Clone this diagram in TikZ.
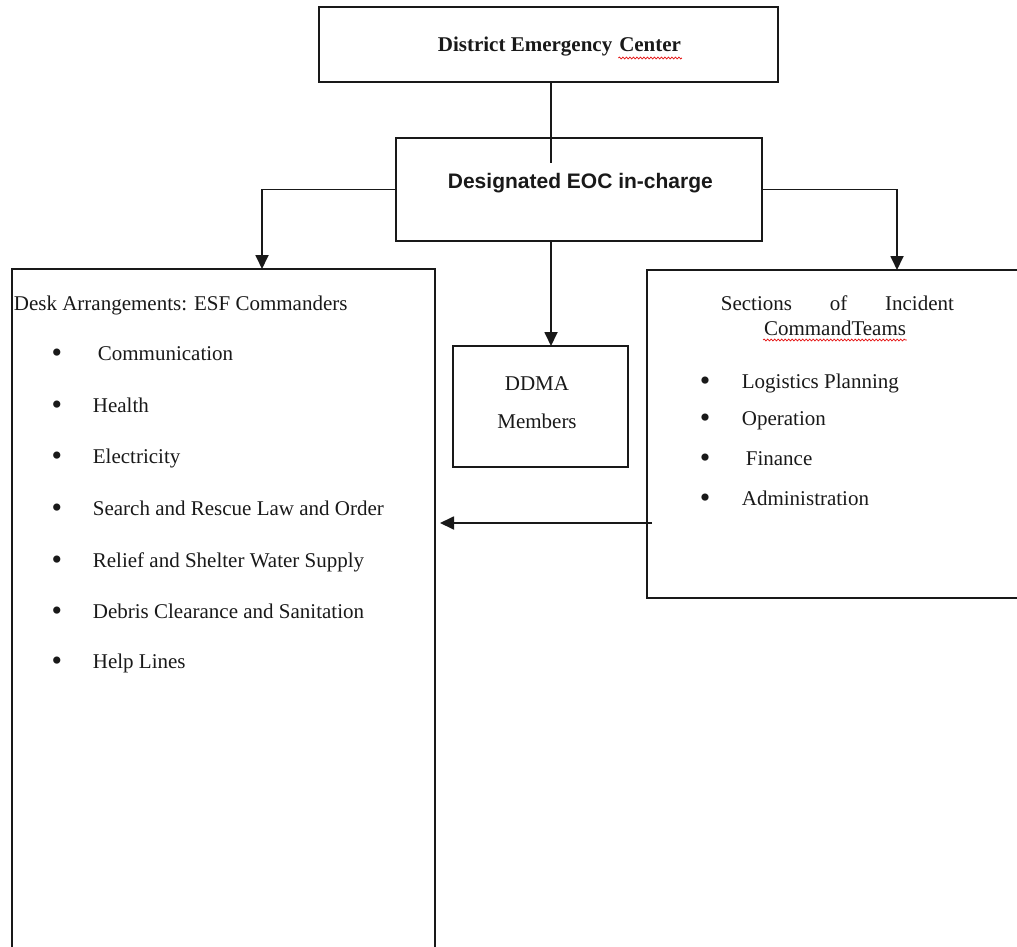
\documentclass[tikz,border=0pt]{standalone}
\usepackage{fontspec}
\setmainfont{Liberation Serif}
\newfontfamily\eocfont{Liberation Sans}
\usepackage{tikz}
\usetikzlibrary{arrows.meta,positioning,decorations.pathmorphing}
\definecolor{colorL}{rgb}{0.1,0.1,0.1}
\definecolor{colorS}{rgb}{0.9,0.1,0.1}

\begin{document}
\begin{tikzpicture}[x=1pt, y=-1pt, colorL, line width=1.8pt,
		box/.style={draw=colorL, inner sep=0pt, outer sep=0pt, anchor=north west},
		txt/.style={inner sep=0pt, anchor=base west, font=\fontsize{21}{25}\selectfont},
		btxt/.style={txt, font=\fontsize{21}{25}\selectfont\bfseries},
		stxt/.style={txt, font=\fontsize{21}{25}\selectfont\eocfont\bfseries},
		dot/.style={txt, anchor=base, font=\fontsize{30}{30}\selectfont},
		arrow/.style={-{Triangle[length=14pt,width=13pt]}},
		squiggle/.style={colorS, line width=0.8pt, decorate,
			decoration={snake, amplitude=0.9pt, segment length=3.5pt}},
	]
		\clip (0,0) rectangle (1017,947);
		%
		\node[box, minimum width=459pt, minimum height=75pt] (dec) at (319,7) {};
		\node[box, minimum width=366pt, minimum height=103pt] (eoc) at (396,138) {};
		\node[box, minimum width=423pt, minimum height=700pt] (desk) at (12,269) {};
		\node[box, minimum width=175pt, minimum height=121pt] (ddma) at (453,346) {};
		\node[box, minimum width=400pt, minimum height=328pt] (ict) at (647,270) {};
		\coordinate (stem) at (551,163);
		\coordinate (back) at (652,523);
		%
		\draw (dec.south -| stem) to (stem);
		\draw[arrow] (eoc.south -| stem) to (ddma.north -| stem);
		\draw[arrow] (eoc.west) -| ([xshift=38.5pt]desk.north);
		\draw[arrow] (eoc.east) -| ([xshift=50pt]ict.north);
		\draw[arrow, shorten >=5pt] (back) to (back -| desk.east);
		%
		\node[btxt] (dec-t) at (437,52) {District Emergency};
		\node[btxt, base right=5.2pt of dec-t] (dec-w) {Center};
		\draw[squiggle] ([yshift=-6pt]dec-w.base west) to ([yshift=-6pt]dec-w.base east);
		\node[stxt] (eoc-t) at (447,188) {Designated EOC in-charge};
		%
		\node[txt] (desk-t) at (13,310) {Desk Arrangements: ESF Commanders};
		\node[dot] (desk-b1) at (57,362) {\textbullet};
		\node[dot] (desk-b2) at (57,414) {\textbullet};
		\node[dot] (desk-b3) at (57,465) {\textbullet};
		\node[dot] (desk-b4) at (57,517) {\textbullet};
		\node[dot] (desk-b5) at (57,569) {\textbullet};
		\node[dot] (desk-b6) at (57,620) {\textbullet};
		\node[dot] (desk-b7) at (57,670) {\textbullet};
		\node[txt] (desk-1) at (97,360) {Communication};
		\node[txt] (desk-2) at (92,412) {Health};
		\node[txt] (desk-3) at (92,463) {Electricity};
		\node[txt] (desk-4) at (92,515) {Search and Rescue Law and Order};
		\node[txt] (desk-5) at (92,567) {Relief and Shelter Water Supply};
		\node[txt] (desk-6) at (92,618) {Debris Clearance and Sanitation};
		\node[txt] (desk-7) at (92,668) {Help Lines};
		%
		\node[txt, anchor=base] (ddma-1) at (537,390) {DDMA};
		\node[txt, anchor=base] (ddma-2) at (537,428) {Members};
		%
		\node[txt] (ict-t1) at (720,310) {\makebox[233pt][s]{Sections\hfill of\hfill Incident}};
		\node[txt, anchor=base] (ict-t2) at (835,335) {CommandTeams};
		\draw[squiggle] ([yshift=-5pt]ict-t2.base west) to ([yshift=-5pt]ict-t2.base east);
		\node[dot] (ict-b1) at (705,390) {\textbullet};
		\node[dot] (ict-b2) at (705,427) {\textbullet};
		\node[dot] (ict-b3) at (705,467) {\textbullet};
		\node[dot] (ict-b4) at (705,507) {\textbullet};
		\node[txt] (ict-1) at (741,388) {Logistics Planning};
		\node[txt] (ict-2) at (741,425) {Operation};
		\node[txt] (ict-3) at (745,465) {Finance};
		\node[txt] (ict-4) at (741,505) {Administration};
	\end{tikzpicture}
\end{document}
